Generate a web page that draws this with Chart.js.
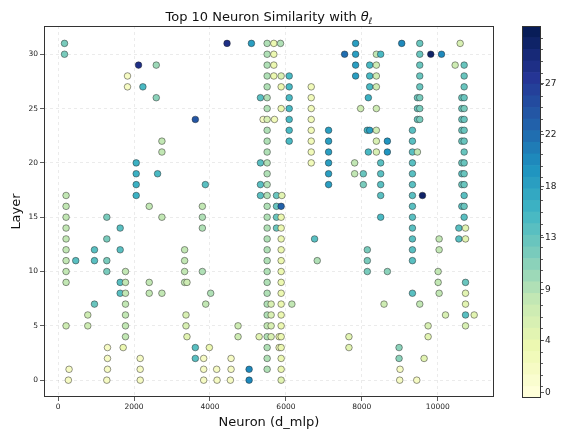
<!DOCTYPE html>
<html>
<head>
<meta charset="utf-8">
<script src="https://cdn.jsdelivr.net/npm/chart.js@4.4.1/dist/chart.umd.min.js"></script>
<style>
  html, body { margin: 0; padding: 0; background: #fff; }
  #wrap { position: relative; width: 561px; height: 432px; }
  #main { position: absolute; left: 0; top: 0; }
  #cbar { position: absolute; left: 505px; top: 0; }
</style>
</head>
<body>
<div id="wrap">
  <canvas id="main" width="561" height="432"></canvas>
  <canvas id="cbar" width="56" height="432"></canvas>
</div>
<script>
// neuron index (d_mlp) of the top neurons, one row per layer, layer 0 first
const neuronsByLayer = [
  [272, 1284, 2164, 3835, 4187, 4538, 5031, 5875, 8997, 9446],
  [290, 1302, 2163, 3835, 4177, 4556, 5031, 5506, 5875, 9006],
  [1302, 2163, 3615, 3835, 4556, 5506, 5875, 8980, 9639],
  [1302, 1715, 3615, 3984, 5506, 5822, 5875, 7660, 8980],
  [1776, 3395, 4740, 5295, 5506, 5611, 5822, 5875, 7660, 9745],
  [211, 783, 1776, 3369, 4740, 5506, 5611, 5875, 9745, 10730],
  [783, 1776, 3369, 5506, 5611, 5875, 10203, 10730, 10958],
  [959, 1776, 3888, 5506, 5611, 5875, 6157, 8584, 9525, 10730],
  [1636, 1776, 2401, 2735, 4019, 5506, 5875, 9332, 10035, 10730],
  [211, 1636, 1776, 2401, 3333, 3395, 5506, 5875, 10009, 10730],
  [211, 1284, 1776, 3333, 3800, 5506, 5875, 8144, 8672, 10009],
  [211, 466, 959, 1284, 3333, 5506, 5875, 6825, 8144, 9332],
  [211, 959, 1636, 3333, 5506, 5875, 8144, 9332, 10035],
  [211, 1284, 5506, 5875, 6755, 9332, 10035, 10554, 10730],
  [211, 1636, 3800, 5506, 5752, 5875, 9332, 10554, 10730],
  [211, 1284, 2735, 3800, 5506, 5752, 5875, 8496, 9332, 10694],
  [211, 2401, 3800, 5506, 5752, 5875, 9332, 10633, 10694],
  [211, 2058, 5330, 5506, 5752, 5893, 8496, 9332, 9596, 10694],
  [2058, 3879, 5330, 5506, 7124, 8039, 8496, 9332, 10633, 10694],
  [2058, 2621, 5506, 7124, 7810, 8039, 8496, 9332, 10633, 10694],
  [2058, 5330, 5506, 6667, 7124, 7810, 8496, 9332, 10633, 10694],
  [2735, 5506, 6667, 7124, 8171, 8382, 8672, 9332, 9464, 10694],
  [2735, 5506, 6087, 6667, 7124, 8382, 8672, 9332, 10633, 10694],
  [5506, 6087, 6667, 7124, 8144, 8206, 8382, 9332, 10633, 10694],
  [3615, 5400, 5506, 5699, 6087, 6667, 9464, 9525, 10633, 10694],
  [5506, 5875, 6087, 6667, 7968, 8382, 9464, 9525, 10633, 10694],
  [2586, 5330, 5506, 6087, 6667, 8171, 9464, 9525, 10633, 10694],
  [1829, 2234, 5506, 5875, 6087, 6667, 8206, 8382, 9525, 10694],
  [1829, 5506, 5682, 5875, 6087, 7836, 8206, 8382, 9525, 10694],
  [2119, 2586, 5506, 5682, 7836, 8206, 8382, 9525, 10457, 10694],
  [170, 5506, 5682, 7546, 7836, 8382, 8496, 9525, 9815, 10097],
  [170, 4450, 5092, 5506, 5682, 5858, 7836, 9050, 9525, 10589]
];

// colour value of the same points
const valuesByLayer = [
  [2, 2, 2, 2, 2, 2, 20, 5, 2, 2],
  [2, 2, 2, 2, 2, 2, 20, 9, 4, 2],
  [2, 2, 14, 2, 2, 9, 4, 11, 5],
  [2, 4, 14, 4, 9, 3, 4, 5, 11],
  [8, 5, 7, 5, 9, 6, 4, 4, 5, 5],
  [7, 7, 8, 6, 7, 8, 6, 4, 6, 6],
  [7, 8, 6, 9, 6, 4, 6, 14, 5],
  [13, 8, 8, 9, 6, 4, 8, 7, 8, 5],
  [14, 8, 8, 8, 9, 9, 4, 14, 8, 5],
  [8, 14, 8, 8, 8, 7, 9, 4, 8, 13],
  [8, 12, 8, 8, 9, 9, 4, 12, 11, 8],
  [8, 14, 14, 12, 8, 9, 4, 9, 12, 14],
  [8, 14, 14, 8, 9, 4, 12, 14, 8],
  [8, 12, 9, 4, 14, 14, 8, 14, 5],
  [8, 14, 9, 9, 13, 4, 14, 14, 5],
  [8, 12, 8, 9, 9, 13, 4, 15, 14, 14],
  [8, 8, 8, 9, 13, 23, 14, 14, 13],
  [8, 16, 14, 9, 13, 5, 14, 14, 30, 14],
  [16, 14, 14, 9, 18, 12, 14, 14, 13, 13],
  [16, 15, 9, 18, 8, 13, 14, 14, 14, 13],
  [16, 14, 9, 3, 18, 8, 14, 14, 13, 13],
  [8, 9, 3, 18, 15, 6, 19, 14, 8, 13],
  [8, 9, 15, 3, 18, 6, 19, 14, 13, 13],
  [9, 15, 3, 18, 15, 18, 7, 14, 13, 13],
  [24, 2, 6, 3, 15, 3, 13, 12, 13, 13],
  [9, 4, 15, 3, 7, 7, 13, 12, 13, 12],
  [11, 14, 9, 15, 3, 16, 13, 12, 13, 13],
  [2, 15, 9, 4, 15, 3, 15, 7, 13, 13],
  [2, 9, 4, 6, 15, 18, 15, 7, 13, 13],
  [28, 10, 9, 4, 18, 15, 7, 13, 7, 13],
  [12, 9, 4, 22, 18, 8, 15, 13, 30, 20],
  [12, 28, 18, 9, 4, 9, 18, 20, 13, 6]
];

const xTicks = [0, 2000, 4000, 6000, 8000, 10000];
const yTicks = [0, 5, 10, 15, 20, 25, 30];
const cbarLevels = [0, 1, 2, 3, 4, 5, 6, 7, 8, 9, 10, 11, 12, 13, 14, 15,
                    16, 17, 18, 19, 20, 21, 22, 23, 24, 25, 26, 27, 28, 29, 30, 31];
const cbarTicks = [0, 4.43, 8.86, 13.29, 17.71, 22.14, 26.57];
const cbarLabels = ['0', '4', '9', '13', '18', '22', '27'];

// YlGnBu colour map, sampled into the colorbar levels
const ylgnbu = ['#ffffd9', '#edf8b1', '#c7e9b4', '#7fcdbb', '#41b6c4',
                '#1d91c0', '#225ea8', '#253494', '#081d58'];

function hexToRgb(h) {
    return [1, 3, 5].map(i => parseInt(h.substr(i, 2), 16));
}

function cmap(t) {
    const pos = t * (ylgnbu.length - 1);
    const i = Math.min(Math.floor(pos), ylgnbu.length - 2);
    const f = pos - i;
    const a = hexToRgb(ylgnbu[i]);
    const b = hexToRgb(ylgnbu[i + 1]);
    const c = a.map((v, k) => Math.round(v + (b[k] - v) * f));
    return `rgb(${c[0]}, ${c[1]}, ${c[2]})`;
}

function levelColor(v) {
    const n = cbarLevels.length;
    const i = Math.max(0, Math.min(n - 1, Math.round(v)));
    return cmap(i / (n - 1));
}

const FONT = 'DejaVu Sans';

// build the scatter points
const points = [];
const colors = [];
neuronsByLayer.forEach((row, layer) => {
    row.forEach((n, k) => {
        points.push({ x: n, y: layer });
        colors.push(levelColor(valuesByLayer[layer][k]));
    });
});

// box around the plot area
const framePlugin = {
    id: 'frame',
    afterDraw(chart) {
        const { ctx, chartArea: a } = chart;
        ctx.save();
        ctx.strokeStyle = '#333';
        ctx.lineWidth = 1;
        ctx.strokeRect(a.left + 0.5, a.top + 0.5, a.right - a.left - 1, a.bottom - a.top - 1);
        ctx.restore();
    }
};

// title with the math part (theta, subscript l)
const titlePlugin = {
    id: 'figTitle',
    afterDraw(chart) {
        const { ctx, chartArea: a } = chart;
        const cx = (a.left + a.right) / 2;
        const y = 21;
        const main = 'Top 10 Neuron Similarity with ';
        ctx.save();
        ctx.fillStyle = '#111';
        ctx.textBaseline = 'alphabetic';
        ctx.font = `13px "${FONT}"`;
        const w1 = ctx.measureText(main).width;
        ctx.font = `italic 13px "${FONT}"`;
        const w2 = ctx.measureText('θ').width;
        ctx.font = `italic 9px "${FONT}"`;
        const w3 = ctx.measureText('ℓ').width;
        let x = cx - (w1 + w2 + w3) / 2;
        ctx.font = `13px "${FONT}"`;
        ctx.fillText(main, x, y);
        x += w1;
        ctx.font = `italic 13px "${FONT}"`;
        ctx.fillText('θ', x, y);
        x += w2;
        ctx.font = `italic 9px "${FONT}"`;
        ctx.fillText('ℓ', x, y + 2.5);
        ctx.restore();
    }
};

new Chart(document.getElementById('main'), {
    type: 'scatter',
    data: {
        datasets: [{
            data: points,
            backgroundColor: colors,
            borderColor: 'rgba(35, 35, 35, 0.8)',
            borderWidth: 0.6,
            pointRadius: 3.3,
            pointHoverRadius: 3.3
        }]
    },
    options: {
        responsive: false,
        animation: false,
        events: [],
        layout: { padding: { left: 0, right: 67, top: 26, bottom: 0 } },
        plugins: {
            legend: { display: false },
            tooltip: { enabled: false },
            title: { display: false }
        },
        scales: {
            x: {
                type: 'linear',
                min: -370,
                max: 11480,
                afterBuildTicks: s => { s.ticks = xTicks.map(v => ({ value: v })); },
                afterFit: s => { s.height = 35; },
                grid: {
                    color: 'rgba(0, 0, 0, 0.1)',
                    lineWidth: 0.8,
                    tickLength: 4,
                    tickColor: '#333',
                    tickWidth: 0.8
                },
                border: { display: false, dash: [3, 3] },
                ticks: {
                    callback: v => String(v),
                    font: { family: FONT, size: 7.5 },
                    color: '#222',
                    padding: 2,
                    maxRotation: 0
                },
                title: {
                    display: true,
                    text: 'Neuron (d_mlp)',
                    font: { family: FONT, size: 13 },
                    color: '#111',
                    padding: { top: 0, bottom: 2 }
                }
            },
            y: {
                type: 'linear',
                min: -1.55,
                max: 32.6,
                afterBuildTicks: s => { s.ticks = yTicks.map(v => ({ value: v })); },
                afterFit: s => { s.width = 44; },
                grid: {
                    color: 'rgba(0, 0, 0, 0.1)',
                    lineWidth: 0.8,
                    tickLength: 4,
                    tickColor: '#333',
                    tickWidth: 0.8
                },
                border: { display: false, dash: [3, 3] },
                ticks: {
                    callback: v => String(v),
                    font: { family: FONT, size: 7.5 },
                    color: '#222',
                    padding: 2
                },
                title: {
                    display: true,
                    text: 'Layer',
                    font: { family: FONT, size: 13 },
                    color: '#111',
                    padding: { top: 9, bottom: 0 }
                }
            }
        }
    },
    plugins: [framePlugin, titlePlugin]
});

// outline and minor ticks of the colorbar
const cbarFramePlugin = {
    id: 'cbarFrame',
    afterDraw(chart) {
        const { ctx, chartArea: a } = chart;
        const yScale = chart.scales.y;
        ctx.save();
        ctx.strokeStyle = '#333';
        ctx.lineWidth = 0.8;
        ctx.beginPath();
        cbarLevels.slice(0, -1).forEach(l => {
            const py = Math.round(yScale.getPixelForValue(l + 0.5)) + 0.5;
            ctx.moveTo(a.right, py);
            ctx.lineTo(a.right + 2, py);
        });
        ctx.stroke();
        ctx.lineWidth = 1;
        ctx.strokeRect(a.left + 0.5, a.top + 0.5, a.right - a.left - 1, a.bottom - a.top - 1);
        ctx.restore();
    }
};

new Chart(document.getElementById('cbar'), {
    type: 'bar',
    data: {
        labels: ['c'],
        datasets: cbarLevels.map(l => ({
            data: [[l - 0.5, l + 0.5]],
            backgroundColor: levelColor(l),
            borderWidth: 0,
            grouped: false,
            barPercentage: 1,
            categoryPercentage: 1
        }))
    },
    options: {
        responsive: false,
        animation: false,
        events: [],
        layout: { padding: { left: 17, right: 0, top: 26, bottom: 34 } },
        plugins: {
            legend: { display: false },
            tooltip: { enabled: false }
        },
        scales: {
            x: { display: false },
            y: {
                type: 'linear',
                position: 'right',
                min: -0.5,
                max: 31.5,
                afterBuildTicks: s => { s.ticks = cbarTicks.map(v => ({ value: v })); },
                afterFit: s => { s.width = 20; },
                grid: {
                    drawOnChartArea: false,
                    tickLength: 3,
                    tickColor: '#333',
                    tickWidth: 0.8
                },
                border: { display: false },
                ticks: {
                    callback: (v, i) => cbarLabels[i],
                    font: { family: FONT, size: 9 },
                    color: '#222',
                    padding: 1
                }
            }
        }
    },
    plugins: [cbarFramePlugin]
});
</script>
</body>
</html>
